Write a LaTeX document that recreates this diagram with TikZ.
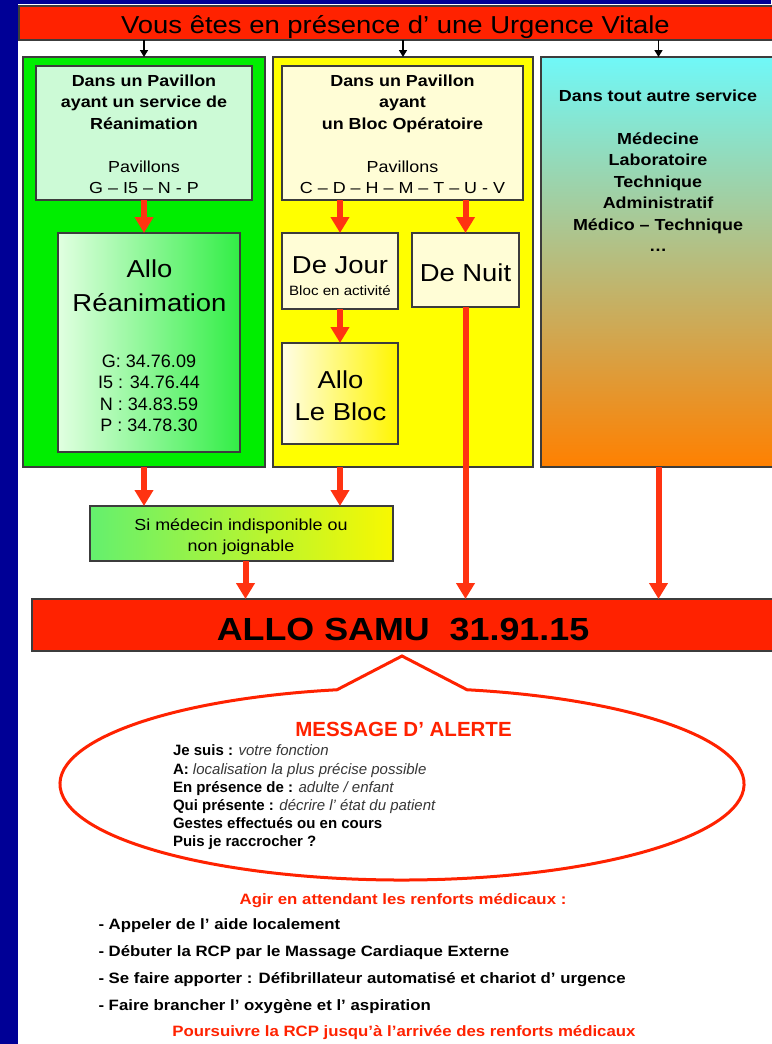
\documentclass[tikz,border=0pt]{standalone}
\usepackage{fontspec}
\setmainfont{Liberation Sans}
\newfontfamily\largefont{Liberation Sans}[FakeStretch=1.12]
\usetikzlibrary{arrows.meta}
\newcommand{\taille}[2]{\fontsize{#1}{#2}\selectfont}

\definecolor{fond}{RGB}{0,0,150}
\definecolor{rouge}{RGB}{255,34,0}
\definecolor{fleche}{RGB}{255,51,17}
\definecolor{vert}{RGB}{0,238,0}
\definecolor{vertclair}{RGB}{204,250,214}
\definecolor{jaune}{RGB}{255,255,0}
\definecolor{creme}{RGB}{255,253,214}
\definecolor{bord}{RGB}{60,60,60}
\definecolor{gris}{RGB}{55,55,55}

\begin{document}
\begin{tikzpicture}[x=1pt, y=-1pt,
    every node/.style={inner sep=0pt, outer sep=0pt},
    boite/.style 2 args={draw=bord, line width=1.2pt, minimum width=#1, minimum height=#2},
    rougef/.style={draw=fleche, line width=6pt, -{Triangle[width=18pt,length=16pt]}},
    noirf/.style={draw=black, line width=1.5pt, -{Triangle[width=8pt,length=7pt]}},
    grand/.style={font=\largefont\taille{24.5}{34}, align=center},
    moyen/.style={font=\largefont\taille{16}{21.5}, align=center}]

	% Background
	\useasboundingbox (0,0) rectangle (771,1044);
	\fill[fond] (0,0) rectangle (771,1044);
	\fill[white] (18,4) rectangle (771,1044);

	% Title bar
	\node[boite={757pt}{34pt}, fill=rouge] (titre) at (397.5,23) {};
	\node[anchor=base, font=\largefont\taille{24.5}{30}] (titreT) at (395.5,33) {Vous êtes en présence d’ une Urgence Vitale};

	% Columns
	\node[boite={242pt}{410pt}, fill=vert] (colRea) at (144,262) {};
	\node[boite={260pt}{410pt}, fill=jaune] (colBloc) at (403,262) {};
	\node[boite={235pt}{410pt}, top color={rgb,255:red,112;green,248;blue,248},
	      middle color={rgb,255:red,200;green,178;blue,125},
	      bottom color={rgb,255:red,255;green,128;blue,0}] (colAutre) at (658.5,262) {};

	% Reanimation
	\node[boite={216pt}{134pt}, fill=vertclair] (pavRea) at (144,133) {};
	\node[moyen, anchor=north] (pavReaT) at (144,74.5)
	  {\textbf{Dans un Pavillon}\\\textbf{ayant un service de}\\\textbf{Réanimation}\\[21.5pt]Pavillons\\G – I5 – N - P};
	\node[boite={182pt}{219pt}, left color={rgb,255:red,225;green,255;blue,225},
	      right color={rgb,255:red,50;green,238;blue,70}] (alloRea) at (149,342.5) {};
	\node[grand, anchor=north] (alloReaT) at (149.5,259.4) {Allo\\Réanimation};
	\node[anchor=north, align=center, font=\taille{18}{21.3}] (alloReaN) at (149,355)
	  {G: 34.76.09\\I5 : 34.76.44\\N : 34.83.59\\P : 34.78.30};

	% Bloc
	\node[boite={241pt}{134pt}, fill=creme] (pavBloc) at (402.5,133) {};
	\node[moyen, anchor=north] (pavBlocT) at (402.5,74.5)
	  {\textbf{Dans un Pavillon}\\\textbf{ayant}\\\textbf{un Bloc Opératoire}\\[21.5pt]Pavillons\\C – D – H – M – T – U - V};
	\node[boite={116pt}{76pt}, fill=creme] (jour) at (340,271) {};
	\node[anchor=base, font=\largefont\taille{24.5}{30}] (jourT) at (340,273.3) {De Jour};
	\node[anchor=base, font=\largefont\taille{13.5}{16}] (jourN) at (340,295) {Bloc en activité};
	\node[boite={107pt}{74pt}, fill=creme] (nuit) at (465.5,270) {};
	\node[anchor=base, font=\largefont\taille{24.5}{30}] (nuitT) at (465.5,281.7) {De Nuit};
	\node[boite={116pt}{101pt}, left color={rgb,255:red,255;green,253;blue,230},
	      right color={rgb,255:red,255;green,245;blue,0}] (alloBloc) at (340,393.5) {};
	\node[grand, anchor=north, font=\largefont\taille{24.5}{32.7}] (alloBlocT) at (340.5,370.4) {Allo\\Le Bloc};

	% Other services
	\node[moyen, anchor=north, font=\largefont\bfseries\taille{16}{21.5}] (autreT) at (658,90.2)
	  {Dans tout autre service\\[21pt]Médecine\\Laboratoire\\Technique\\Administratif\\Médico – Technique\\…};

	% Doctor not available
	\node[boite={303pt}{55pt}, left color={rgb,255:red,100;green,240;blue,110},
	      right color={rgb,255:red,248;green,248;blue,0}] (siMed) at (241.5,533.5) {};
	\node[moyen, anchor=north, font=\largefont\taille{16}{21}] (siMedT) at (241,518.5)
	  {Si médecin indisponible ou\\non joignable};

	% SAMU
	\node[boite={744pt}{52pt}, fill=rouge] (samu) at (404,625) {};
	\node[anchor=base, font=\largefont\bfseries\taille{32}{36}] (samuT) at (403,640) {ALLO SAMU\ \ 31.91.15};

	% Arrows
	\draw[noirf] (titre.south -| colRea.north) -- (colRea.north);
	\draw[noirf] (titre.south -| colBloc.north) -- (colBloc.north);
	\draw[noirf] (titre.south -| colAutre.north) -- (colAutre.north);
	\draw[rougef] (pavRea.south) -- (pavRea.south |- alloRea.north);
	\draw[rougef] (jour.north |- pavBloc.south) -- (jour.north);
	\draw[rougef] (nuit.north |- pavBloc.south) -- (nuit.north);
	\draw[rougef] (jour.south) -- (alloBloc.north);
	\draw[rougef] (colRea.south) -- (colRea.south |- siMed.north);
	\draw[rougef] (alloBloc.south |- colBloc.south) -- (alloBloc.south |- siMed.north);
	\draw[rougef] ([xshift=4pt]siMed.south) -- ([xshift=4pt]siMed.south |- samu.north);
	\draw[rougef] (nuit.south) -- (nuit.south |- samu.north);
	\draw[rougef] (colAutre.south) -- (colAutre.south |- samu.north);

	% Alert message
	\draw[rouge, line width=3pt] (337,689.75) arc[start angle=259.04, end angle=-79.04, x radius=342, y radius=96]
	  -- (402,656) -- cycle;
	\node[anchor=base, text=rouge, font=\bfseries\taille{20.5}{24}] (alerteT) at (403.5,736.7) {MESSAGE D’ ALERTE};
	\node[anchor=north west, align=left, font=\taille{15}{18.2}] (alerteL) at (173,745)
	  {\textbf{Je suis :} \textcolor{gris}{\itshape votre fonction}\\
	   \textbf{A:} \textcolor{gris}{\itshape localisation la plus précise possible}\\
	   \textbf{En présence de :} \textcolor{gris}{\itshape adulte / enfant}\\
	   \textbf{Qui présente :} \textcolor{gris}{\itshape décrire l’ état du patient}\\
	   \textbf{Gestes effectués ou en cours}\\
	   \textbf{Puis je raccrocher ?}};

	% What to do
	\node[anchor=base, text=rouge, font=\largefont\bfseries\taille{15}{18}] (agirT) at (403,904.3) {Agir en attendant les renforts médicaux :};
	\node[anchor=north west, align=left, font=\largefont\bfseries\taille{15}{27}] (listeT) at (98.5,918.2)
	  {- Appeler de l’ aide localement\\
	   - Débuter la RCP par le Massage Cardiaque Externe\\
	   - Se faire apporter : Défibrillateur automatisé et chariot d’ urgence\\
	   - Faire brancher l’ oxygène et l’ aspiration};
	\node[anchor=base, text=rouge, font=\largefont\bfseries\taille{15}{18}] (suiteT) at (404,1036.7) {Poursuivre la RCP jusqu’à l’arrivée des renforts médicaux};
\end{tikzpicture}
\end{document}
